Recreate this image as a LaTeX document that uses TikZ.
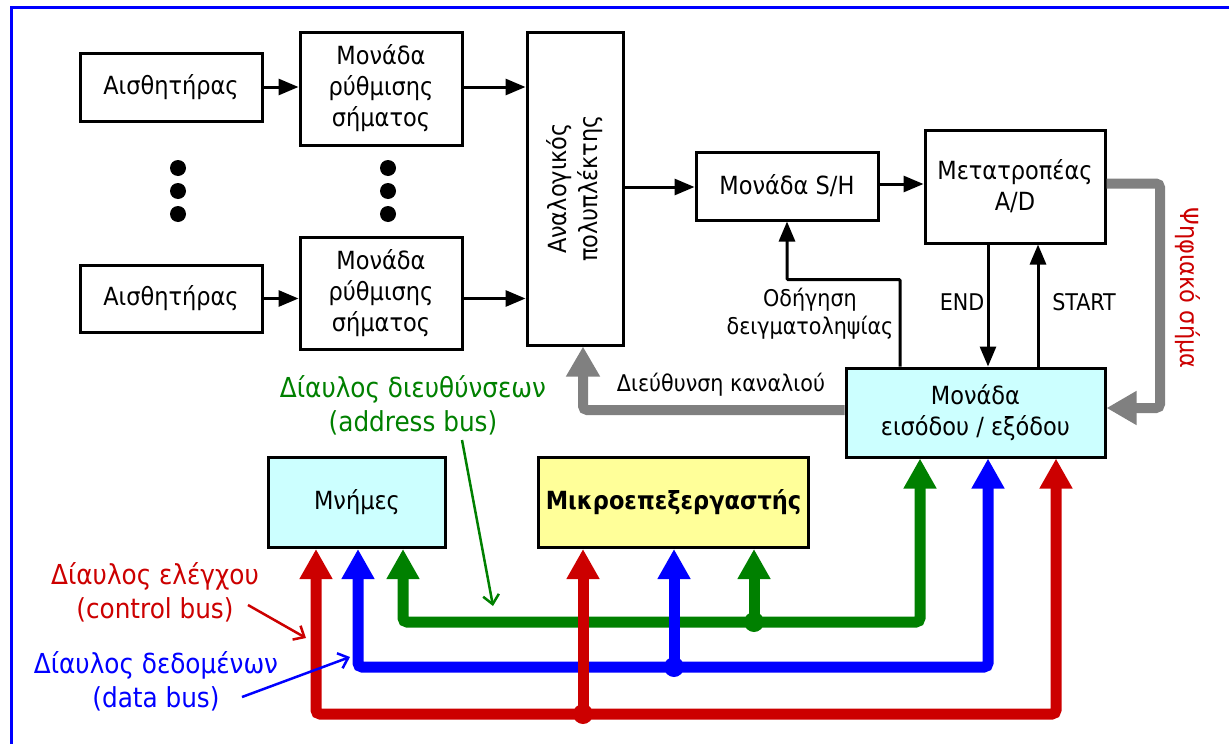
\documentclass[tikz,border=0pt]{standalone}
\usepackage{fontspec}
\setmainfont{DejaVu Sans Condensed}
\usetikzlibrary{arrows.meta}
\definecolor{cred}{RGB}{204,0,0}
\definecolor{cblue}{RGB}{0,0,255}
\definecolor{cgreen}{RGB}{0,128,0}
\definecolor{cgray}{RGB}{128,128,128}
\definecolor{iofill}{RGB}{204,255,255}
\definecolor{upfill}{RGB}{255,255,153}
\newcommand\fmain{\fontsize{25}{31}\selectfont}
\newcommand\fsmall{\fontsize{23}{28}\selectfont}
\newcommand\flabel{\fontsize{27.5}{34}\selectfont}
\begin{document}
\begin{tikzpicture}[x=1pt,y=-1pt,
  blk/.style={draw, line width=3pt, align=center, font=\fmain, inner sep=0pt},
  blkarrow/.style={line width=3pt, -{Triangle[length=20pt,width=16pt]}},
  busline/.style={line width=11pt, rounded corners=4pt},
  grayline/.style={line width=10pt, cgray, rounded corners=4pt, -{Triangle[length=30pt,width=32pt]}},
  thinarrow/.style={line width=2.5pt, -{Straight Barb[length=9pt,width=16pt]}},
  dotnode/.style={circle, fill, inner sep=0pt, minimum size=16pt},
  jdot/.style={circle, fill, inner sep=0pt, minimum size=20pt},
  lbl/.style={font=\fsmall, align=center, inner sep=0pt},
  buslbl/.style={font=\flabel, align=center, inner sep=0pt}]
\useasboundingbox (0,0) rectangle (1229,744);
% frame
\draw[cblue, line width=3pt] (11.5,744) -- (11.5,7.5) -- (1229,7.5);

% blocks
\node[blk, minimum width=182pt, minimum height=68pt] (s1) at (171,87) {Αισθητήρας};
\node[blk, minimum width=182pt, minimum height=67pt] (s2) at (171,298.5) {Αισθητήρας};
\node[blk, minimum width=162pt, minimum height=113pt] (m1) at (381,88.5) {Μονάδα\\ρύθμισης\\σήματος};
\node[blk, minimum width=162pt, minimum height=112pt] (m2) at (381,293) {Μονάδα\\ρύθμισης\\σήματος};
\node[blk, minimum width=96pt, minimum height=313pt] (mux) at (575,188.5) {};
\node[font=\fmain, align=center, rotate=90, inner sep=0pt] (muxt) at (mux.center) {Αναλογικός\\πολυπλέκτης};
\node[blk, minimum width=182pt, minimum height=68pt] (sh) at (787,186) {Μονάδα S/H};
\node[blk, minimum width=180pt, minimum height=113pt] (ad) at (1015,186.5) {Μετατροπέας\\A/D};
\node[blk, fill=iofill, minimum width=259pt, minimum height=89pt] (io) at (975.5,412.5) {Μονάδα\\εισόδου / εξόδου};
\node[blk, fill=iofill, minimum width=177pt, minimum height=90pt] (mem) at (357,502.5) {Μνήμες};
\node[blk, fill=upfill, minimum width=270pt, minimum height=90pt, font=\fmain\bfseries] (up) at (673.5,502.5) {Μικροεπεξεργαστής};

% dots
\node[dotnode] (d1) at (178,168) {};
\node[dotnode] (d2) at (178,191) {};
\node[dotnode] (d3) at (178,214) {};
\node[dotnode] (d4) at (388,168) {};
\node[dotnode] (d5) at (388,191) {};
\node[dotnode] (d6) at (388,214) {};

% helper coordinates
\coordinate (xod) at (900,0);
\coordinate (xend) at (988,0);
\coordinate (xstart) at (1038,0);
\coordinate (xch) at (583,0);
\coordinate (xdig) at (1160,0);
\coordinate (ydig) at (0,408);
\coordinate (ych) at (0,410);
\coordinate (ymx1) at (0,187);
\coordinate (xr1) at (316,0);
\coordinate (xb1) at (358,0);
\coordinate (xg1) at (403,0);
\coordinate (xr2) at (583,0);
\coordinate (xb2) at (674,0);
\coordinate (xg2) at (754,0);
\coordinate (xg3) at (920,0);
\coordinate (xb3) at (988,0);
\coordinate (xr3) at (1056,0);
\coordinate (yg) at (0,622);
\coordinate (yb) at (0,667);
\coordinate (yr) at (0,714);

% black arrows
\draw[blkarrow] (s1.east) -- (m1.west |- s1.east);
\draw[blkarrow] (s2.east) -- (m2.west |- s2.east);
\draw[blkarrow] (m1.east |- s1.east) -- (mux.west |- s1.east);
\draw[blkarrow] (m2.east |- s2.east) -- (mux.west |- s2.east);
\draw[blkarrow] (mux.east |- ymx1) -- (sh.west |- ymx1);
\draw[blkarrow] ([yshift=2pt]sh.east) -- ([yshift=2pt]ad.west |- sh.east);
\draw[blkarrow, rounded corners=1pt] (io.north -| xod) |- ([yshift=-58pt]sh.south) -- (sh.south);
\draw[blkarrow] (ad.south -| xend) -- (io.north -| xend);
\draw[blkarrow] (io.north -| xstart) -- (ad.south -| xstart);

% gray arrows
\draw[grayline] ([yshift=3pt]ad.east) -| (ydig -| xdig) -- (io.east |- ydig);
\draw[grayline] (io.west |- ych) -| (mux.south -| xch);

% labels
\node[lbl] (lch) at (721,385) {Διεύθυνση καναλιού};
\node[lbl] (lod) at (810,314) {Οδήγηση\\δειγματοληψίας};
\node[lbl] (lend) at (962,302) {END};
\node[lbl] (lstart) at (1084,302) {START};
\node[lbl, text=cred, rotate=-90, font=\fmain] (ldig) at (1188,288) {Ψηφιακό σήμα};

% buses
\draw[busline, cgreen, {Triangle[length=30pt,width=31pt]}-{Triangle[length=30pt,width=31pt]}] (mem.south -| xg1) |- (yg -| xg3) -- (io.south -| xg3);
\draw[busline, cgreen, -{Triangle[length=30pt,width=31pt]}] (yg -| xg2) -- (up.south -| xg2);
\draw[busline, cblue, {Triangle[length=30pt,width=31pt]}-{Triangle[length=30pt,width=31pt]}] (mem.south -| xb1) |- (yb -| xb3) -- (io.south -| xb3);
\draw[busline, cblue, -{Triangle[length=30pt,width=31pt]}] (yb -| xb2) -- (up.south -| xb2);
\draw[busline, cred, {Triangle[length=30pt,width=31pt]}-{Triangle[length=30pt,width=31pt]}] (mem.south -| xr1) |- (yr -| xr3) -- (io.south -| xr3);
\draw[busline, cred, -{Triangle[length=30pt,width=31pt]}] (yr -| xr2) -- (up.south -| xr2);
\node[jdot, cgreen] (jg) at (yg -| xg2) {};
\node[jdot, cblue] (jb) at (yb -| xb2) {};
\node[jdot, cred] (jr) at (yr -| xr2) {};

% bus labels
\node[buslbl, text=cgreen] (lab) at (413,405) {Δίαυλος διευθύνσεων\\(address bus)};
\node[buslbl, text=cred] (lcb) at (155,592) {Δίαυλος ελέγχου\\(control bus)};
\node[buslbl, text=cblue] (ldb) at (156,681) {Δίαυλος δεδομένων\\(data bus)};
\coordinate (ag) at (493,606);
\coordinate (ar) at (306,638);
\coordinate (ab) at (350,657);
\draw[thinarrow, cgreen] (462,440) -- (ag);
\draw[thinarrow, cred] (248,605) -- (ar);
\draw[thinarrow, cblue] (242,697) -- (ab);
\end{tikzpicture}
\end{document}
